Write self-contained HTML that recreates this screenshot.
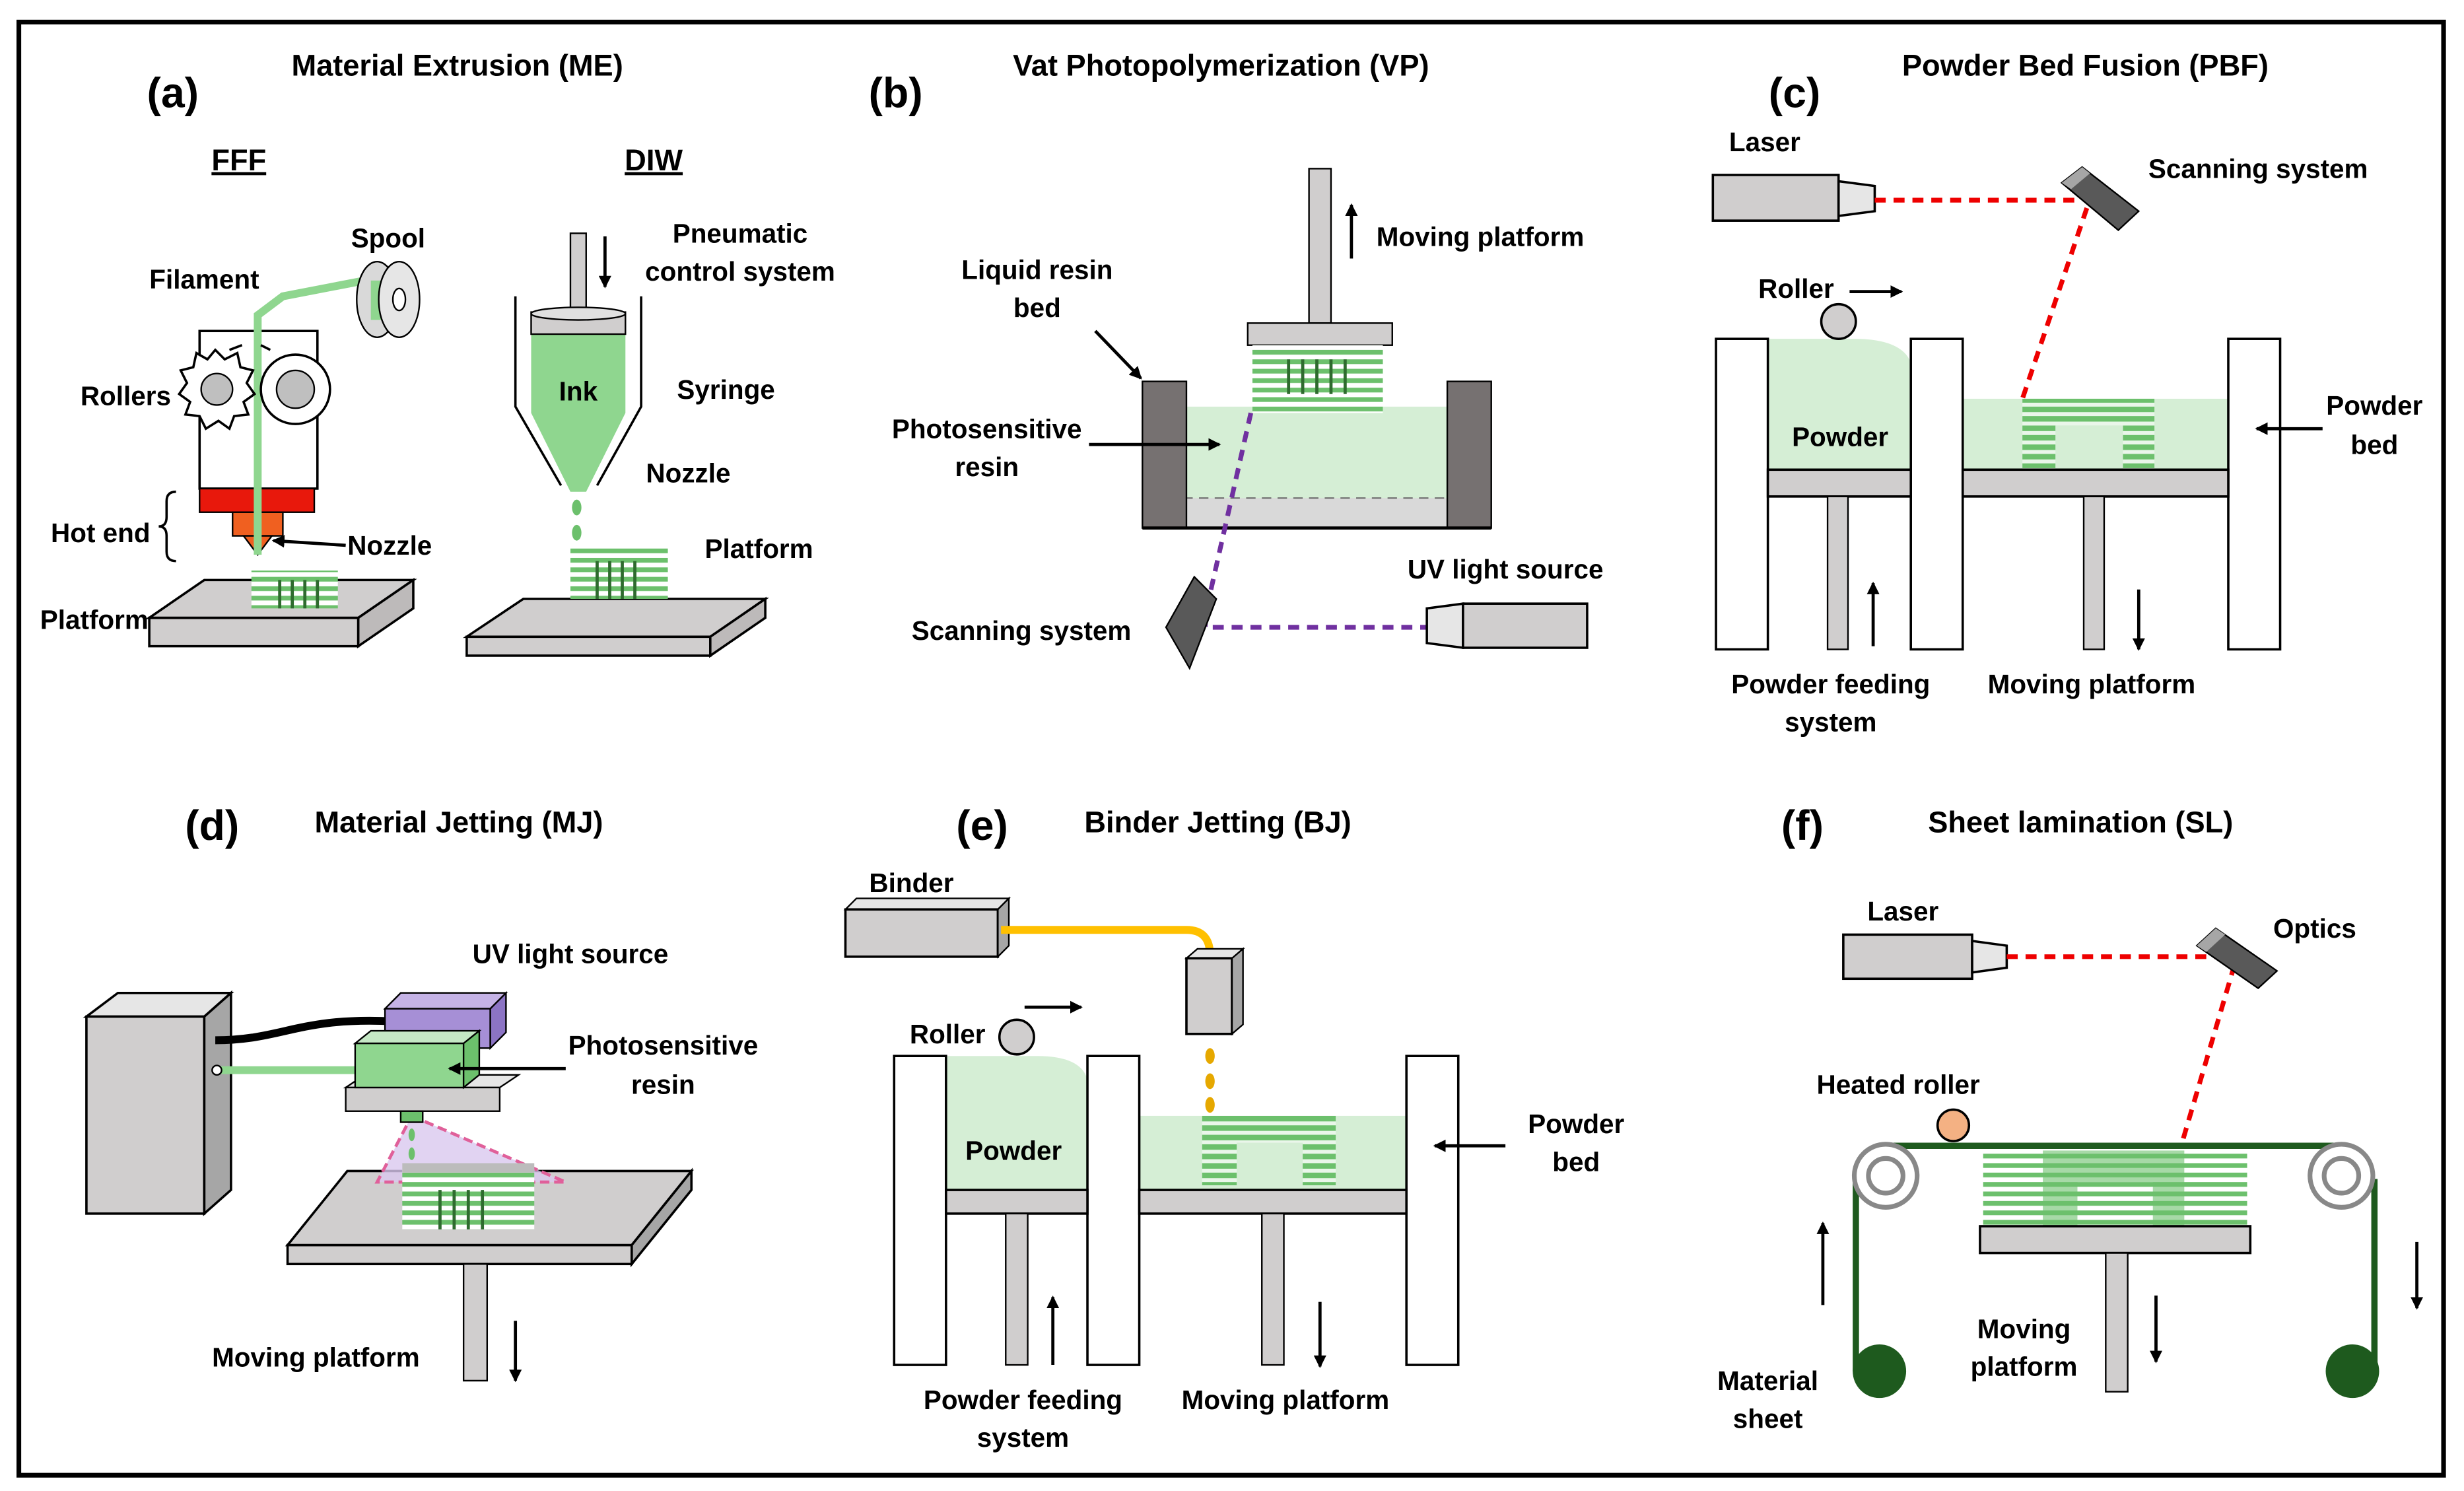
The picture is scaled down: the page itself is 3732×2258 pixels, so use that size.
<!DOCTYPE html>
<html><head><meta charset="utf-8">
<style>
html,body{margin:0;padding:0;background:#fff;}
svg{display:block;}
text{font-family:"Liberation Sans",Arial,sans-serif;font-weight:bold;fill:#000;}
</style></head><body>
<svg width="3732" height="2258" viewBox="0 0 1568 946" preserveAspectRatio="none" xmlns="http://www.w3.org/2000/svg">
<defs>
<pattern id="st" width="10" height="6" patternUnits="userSpaceOnUse"><rect width="10" height="6" fill="#eaf6ea"/><rect width="10" height="3.5" fill="#6cc06c"/></pattern>
<pattern id="st2" width="10" height="6" patternUnits="userSpaceOnUse"><rect width="10" height="6" fill="#fff"/><rect width="10" height="3" fill="#6cc06c"/></pattern>
<marker id="ar" markerWidth="8" markerHeight="8" refX="7" refY="4" orient="auto" markerUnits="userSpaceOnUse"><path d="M0,0 L8,4 L0,8 z" fill="#000"/></marker>
</defs>
<rect x="0" y="0" width="1568" height="946" fill="#fff"/>
<rect x="12" y="14" width="1543" height="922" fill="none" stroke="#000" stroke-width="3"/>

<g font-size="17" text-anchor="middle">
<!-- ===== (a) ===== -->
<text x="110" y="68" font-size="27">(a)</text>
<text x="291" y="48" font-size="19">Material Extrusion (ME)</text>
<text x="152" y="108" font-size="19" text-decoration="underline">FFF</text>
<text x="416" y="108" font-size="19" text-decoration="underline">DIW</text>
<!-- FFF platform -->
<polygon points="95,392 130,368 263,368 228,392" fill="#d0cece" stroke="#000" stroke-width="1.5"/>
<polygon points="95,392 228,392 228,410 95,410" fill="#d0cece" stroke="#000" stroke-width="1.5"/>
<polygon points="228,392 263,368 263,386 228,410" fill="#bdbaba" stroke="#000" stroke-width="1.5"/>
<rect x="160" y="362" width="55" height="24" fill="url(#st2)"/>
<g stroke="#2e6b2e" stroke-width="2"><line x1="178" y1="368" x2="178" y2="386"/><line x1="186" y1="368" x2="186" y2="386"/><line x1="194" y1="368" x2="194" y2="386"/><line x1="202" y1="368" x2="202" y2="386"/></g>
<rect x="127" y="210" width="75" height="100" fill="#fff" stroke="#000" stroke-width="1.5"/>
<rect x="127" y="310" width="73" height="15" fill="#e8180c" stroke="#000"/>
<rect x="148" y="325" width="32" height="15" fill="#f06020" stroke="#000"/>
<polygon points="155,340 173,340 164,352" fill="#f06020" stroke="#000"/>
<polyline points="164,352 164,200 180,188 232,178" fill="none" stroke="#8fd68f" stroke-width="5"/>
<ellipse cx="240" cy="190" rx="13" ry="24" fill="#d9d9d9" stroke="#000"/>
<rect x="236" y="178" width="14" height="25" fill="#8fd68f"/>
<ellipse cx="254" cy="190" rx="13" ry="24" fill="#e6e6e6" stroke="#000"/>
<ellipse cx="254" cy="190" rx="4" ry="7" fill="#fff" stroke="#000"/>
<!-- gear -->
<polygon points="137,222 143,228 151,224 153,233 161,235 157,243 162,250 155,255 158,263 149,264 146,272 139,267 131,272 127,264 118,263 121,255 114,250 119,243 115,235 123,233 125,224 132,228" fill="#fff" stroke="#000" stroke-width="1.5"/>
<circle cx="138" cy="247" r="10" fill="#bfbfbf" stroke="#000"/>
<circle cx="188" cy="247" r="22" fill="#fff" stroke="#000" stroke-width="1.5"/>
<circle cx="188" cy="247" r="12" fill="#bfbfbf" stroke="#000"/>
<path d="M146,222 l8,-3 M172,222 l-6,-3" stroke="#000" stroke-width="1.5"/>
<text x="247" y="157">Spool</text>
<text x="130" y="183">Filament</text>
<text x="80" y="257">Rollers</text>
<text x="64" y="344">Hot end</text>
<path d="M112,312 q-6,0 -6,6 v10 q0,6 -5,6 q5,0 5,6 v10 q0,6 6,6" fill="none" stroke="#000" stroke-width="1.5"/>
<text x="248" y="352">Nozzle</text>
<line x1="220" y1="346" x2="174" y2="343" stroke="#000" stroke-width="2" marker-end="url(#ar)"/>
<text x="60" y="399">Platform</text>
<!-- DIW -->
<polygon points="297,404 333,380 487,380 452,404" fill="#d0cece" stroke="#000" stroke-width="1.5"/>
<polygon points="297,404 452,404 452,416 297,416" fill="#d0cece" stroke="#000" stroke-width="1.5"/>
<polygon points="452,404 487,380 487,392 452,416" fill="#bdbaba" stroke="#000" stroke-width="1.5"/>
<rect x="363" y="348" width="62" height="32" fill="url(#st2)"/>
<g stroke="#2e6b2e" stroke-width="2"><line x1="380" y1="356" x2="380" y2="380"/><line x1="388" y1="356" x2="388" y2="380"/><line x1="396" y1="356" x2="396" y2="380"/><line x1="404" y1="356" x2="404" y2="380"/></g>
<polygon points="338,212 398,212 398,262 373,312 363,312 338,262" fill="#8fd68f"/>
<polyline points="328,188 328,258 357,308" fill="none" stroke="#000" stroke-width="1.5"/>
<polyline points="408,188 408,258 380,308" fill="none" stroke="#000" stroke-width="1.5"/>
<rect x="363" y="148" width="10" height="52" fill="#d0cece" stroke="#000"/>
<rect x="338" y="198" width="60" height="14" fill="#d0cece" stroke="#000"/>
<ellipse cx="368" cy="199" rx="30" ry="4" fill="#e0e0e0" stroke="#000"/>
<text x="368" y="254">Ink</text>
<ellipse cx="367" cy="322" rx="3" ry="5" fill="#6cc06c"/>
<ellipse cx="367" cy="338" rx="3" ry="5" fill="#6cc06c"/>
<line x1="385" y1="150" x2="385" y2="182" stroke="#000" stroke-width="2" marker-end="url(#ar)"/>
<text x="471" y="154">Pneumatic</text>
<text x="471" y="178">control system</text>
<text x="462" y="253">Syringe</text>
<text x="438" y="306">Nozzle</text>
<text x="483" y="354">Platform</text>

<!-- ===== (b) ===== -->
<text x="570" y="68" font-size="27">(b)</text>
<text x="777" y="48" font-size="19">Vat Photopolymerization (VP)</text>
<rect x="755" y="258" width="166" height="77" fill="#d5eed5"/>
<rect x="753" y="316" width="169" height="19" fill="#d9d9d9" stroke="#777" stroke-dasharray="6,4"/>
<rect x="727" y="242" width="28" height="93" fill="#767171" stroke="#000"/>
<rect x="921" y="242" width="28" height="93" fill="#767171" stroke="#000"/>
<line x1="727" y1="335" x2="949" y2="335" stroke="#000" stroke-width="2"/>
<rect x="833" y="107" width="14" height="98" fill="#d0cece" stroke="#000"/>
<rect x="794" y="205" width="92" height="14" fill="#d0cece" stroke="#000"/>
<rect x="797" y="219" width="83" height="43" fill="url(#st2)"/>
<g stroke="#2e6b2e" stroke-width="2"><line x1="820" y1="228" x2="820" y2="250"/><line x1="829" y1="228" x2="829" y2="250"/><line x1="838" y1="228" x2="838" y2="250"/><line x1="847" y1="228" x2="847" y2="250"/><line x1="856" y1="228" x2="856" y2="250"/></g>
<line x1="860" y1="164" x2="860" y2="130" stroke="#000" stroke-width="2" marker-end="url(#ar)"/>
<text x="942" y="156">Moving platform</text>
<text x="660" y="177">Liquid resin</text>
<text x="660" y="201">bed</text>
<line x1="697" y1="210" x2="726" y2="240" stroke="#000" stroke-width="2" marker-end="url(#ar)"/>
<text x="628" y="278">Photosensitive</text>
<text x="628" y="302">resin</text>
<line x1="693" y1="282" x2="776" y2="282" stroke="#000" stroke-width="2" marker-end="url(#ar)"/>
<polyline points="796,262 767,390 767,398 908,398" fill="none" stroke="#7030a0" stroke-width="3" stroke-dasharray="7,5"/>
<polygon points="742,398 760,366 774,380 757,424" fill="#595959" stroke="#000"/>
<polygon points="908,386 931,383 931,411 908,408" fill="#e6e6e6" stroke="#000" stroke-width="1.5"/>
<rect x="931" y="383" width="79" height="28" fill="#d0cece" stroke="#000" stroke-width="1.5"/>
<text x="958" y="367">UV light source</text>
<text x="650" y="406">Scanning system</text>

<!-- ===== (c) ===== -->
<text x="1142" y="68" font-size="27">(c)</text>
<text x="1327" y="48" font-size="19">Powder Bed Fusion (PBF)</text>
<rect x="1090" y="111" width="80" height="29" fill="#d0cece" stroke="#000" stroke-width="1.5"/>
<polygon points="1170,115 1193,118 1193,134 1170,137" fill="#e6e6e6" stroke="#000" stroke-width="1.5"/>
<text x="1123" y="96">Laser</text>
<polyline points="1193,127 1325,127" fill="none" stroke="#e00" stroke-width="3" stroke-dasharray="7,5"/>
<line x1="1328" y1="132" x2="1287" y2="253" stroke="#e00" stroke-width="3" stroke-dasharray="7,5"/>
<polygon points="1312,116 1325,106 1361,134 1348,146" fill="#595959" stroke="#000"/>
<polygon points="1312,116 1325,106 1330,110 1318,120" fill="#a6a6a6"/>
<text x="1437" y="113">Scanning system</text>
<path d="M1125,298 V215 H1180 Q1210,215 1216,230 V298 Z" fill="#d5eed5"/>
<rect x="1249" y="253" width="169" height="45" fill="#d5eed5"/>
<path d="M1287,297 V253 H1371 V297 H1351 V270 H1308 V297 Z" fill="url(#st)"/>
<rect x="1092" y="215" width="33" height="197" fill="#fff" stroke="#000" stroke-width="1.5"/>
<rect x="1216" y="215" width="33" height="197" fill="#fff" stroke="#000" stroke-width="1.5"/>
<rect x="1418" y="215" width="33" height="197" fill="#fff" stroke="#000" stroke-width="1.5"/>
<rect x="1125" y="298" width="91" height="17" fill="#d0cece" stroke="#000" stroke-width="1.5"/>
<rect x="1249" y="298" width="169" height="17" fill="#d0cece" stroke="#000" stroke-width="1.5"/>
<rect x="1163" y="315" width="13" height="97" fill="#d0cece" stroke="#000"/>
<rect x="1326" y="315" width="13" height="97" fill="#d0cece" stroke="#000"/>
<circle cx="1170" cy="204" r="11" fill="#d0cece" stroke="#000" stroke-width="1.5"/>
<text x="1143" y="189">Roller</text>
<line x1="1177" y1="185" x2="1210" y2="185" stroke="#000" stroke-width="2" marker-end="url(#ar)"/>
<text x="1171" y="283">Powder</text>
<text x="1511" y="263">Powder</text>
<text x="1511" y="288">bed</text>
<line x1="1478" y1="272" x2="1436" y2="272" stroke="#000" stroke-width="2" marker-end="url(#ar)"/>
<line x1="1192" y1="410" x2="1192" y2="370" stroke="#000" stroke-width="2" marker-end="url(#ar)"/>
<line x1="1361" y1="374" x2="1361" y2="412" stroke="#000" stroke-width="2" marker-end="url(#ar)"/>
<text x="1165" y="440">Powder feeding</text>
<text x="1165" y="464">system</text>
<text x="1331" y="440">Moving platform</text>

<!-- ===== (d) ===== -->
<text x="135" y="533" font-size="27">(d)</text>
<text x="292" y="528" font-size="19">Material Jetting (MJ)</text>
<polygon points="55,645 75,630 147,630 130,645" fill="#e6e6e6" stroke="#000" stroke-width="1.5"/>
<rect x="55" y="645" width="75" height="125" fill="#d0cece" stroke="#000" stroke-width="1.5"/>
<polygon points="130,645 147,630 147,755 130,770" fill="#a6a6a6" stroke="#000" stroke-width="1.5"/>
<path d="M137,660 C180,660 190,645 250,648" fill="none" stroke="#000" stroke-width="5"/>
<path d="M137,679 H228" fill="none" stroke="#8fd68f" stroke-width="5"/>
<circle cx="138" cy="679" r="3" fill="#fff" stroke="#000"/>
<polygon points="245,640 255,630 322,630 312,640" fill="#c5b3e6" stroke="#000"/>
<rect x="245" y="640" width="67" height="25" fill="#a68fd6" stroke="#000"/>
<polygon points="312,640 322,630 322,655 312,665" fill="#8c74c4" stroke="#000"/>
<polygon points="220,690 232,682 330,682 318,690" fill="#e6e6e6" stroke="#000"/>
<rect x="220" y="690" width="98" height="15" fill="#d0cece" stroke="#000"/>
<polygon points="226,662 236,654 305,654 295,662" fill="#c5e8c5" stroke="#000"/>
<rect x="226" y="662" width="69" height="28" fill="#8fd68f" stroke="#000"/>
<polygon points="295,662 305,654 305,682 295,690" fill="#6cc06c" stroke="#000"/>
<!-- platform -->
<polygon points="183,790 221,743 440,743 402,790" fill="#d0cece" stroke="#000" stroke-width="1.5"/>
<rect x="183" y="790" width="219" height="12" fill="#d0cece" stroke="#000" stroke-width="1.5"/>
<polygon points="402,790 440,743 440,755 402,802" fill="#a6a6a6" stroke="#000" stroke-width="1.5"/>
<polygon points="262,708 360,750 240,750" fill="#d9c8ef" fill-opacity="0.8" stroke="#e0609a" stroke-width="2" stroke-dasharray="6,3"/>
<rect x="255" y="705" width="14" height="7" fill="#6cc06c" stroke="#000"/>
<rect x="256" y="742" width="84" height="38" fill="url(#st2)"/>
<rect x="256" y="738" width="84" height="6" fill="#bcbcbc"/>
<g stroke="#2e6b2e" stroke-width="2"><line x1="280" y1="755" x2="280" y2="780"/><line x1="289" y1="755" x2="289" y2="780"/><line x1="298" y1="755" x2="298" y2="780"/><line x1="307" y1="755" x2="307" y2="780"/></g>
<ellipse cx="262" cy="720" rx="2" ry="4" fill="#6cc06c"/><ellipse cx="262" cy="732" rx="2" ry="4" fill="#6cc06c"/>
<rect x="295" y="802" width="15" height="74" fill="#d0cece" stroke="#000"/>
<line x1="328" y1="838" x2="328" y2="876" stroke="#000" stroke-width="2" marker-end="url(#ar)"/>
<text x="363" y="611">UV light source</text>
<text x="422" y="669">Photosensitive</text>
<text x="422" y="694">resin</text>
<line x1="360" y1="678" x2="286" y2="678" stroke="#000" stroke-width="2" marker-end="url(#ar)"/>
<text x="201" y="867">Moving platform</text>

<!-- ===== (e) ===== -->
<text x="625" y="533" font-size="27">(e)</text>
<text x="775" y="528" font-size="19">Binder Jetting (BJ)</text>
<polygon points="538,577 545,570 642,570 635,577" fill="#e6e6e6" stroke="#000"/>
<rect x="538" y="577" width="97" height="30" fill="#d0cece" stroke="#000" stroke-width="1.5"/>
<polygon points="635,577 642,570 642,600 635,607" fill="#a6a6a6" stroke="#000"/>
<text x="580" y="566">Binder</text>
<path d="M637,590 H755 Q770,590 770,606" fill="none" stroke="#ffc000" stroke-width="5"/>
<polygon points="755,608 762,602 791,602 784,608" fill="#e6e6e6" stroke="#000"/>
<rect x="755" y="608" width="29" height="48" fill="#d0cece" stroke="#000" stroke-width="1.5"/>
<polygon points="784,608 791,602 791,650 784,656" fill="#a6a6a6" stroke="#000"/>
<ellipse cx="770" cy="670" rx="3" ry="5" fill="#e6a800"/><ellipse cx="770" cy="686" rx="3" ry="5" fill="#e6a800"/><ellipse cx="770" cy="701" rx="3" ry="5" fill="#e6a800"/>
<path d="M602,755 V670 H660 Q688,670 692,685 V755 Z" fill="#d5eed5"/>
<rect x="725" y="708" width="170" height="47" fill="#d5eed5"/>
<path d="M765,752 V708 H850 V752 H829 V725 H787 V752 Z" fill="url(#st)"/>
<rect x="569" y="670" width="33" height="196" fill="#fff" stroke="#000" stroke-width="1.5"/>
<rect x="692" y="670" width="33" height="196" fill="#fff" stroke="#000" stroke-width="1.5"/>
<rect x="895" y="670" width="33" height="196" fill="#fff" stroke="#000" stroke-width="1.5"/>
<rect x="602" y="755" width="90" height="15" fill="#d0cece" stroke="#000" stroke-width="1.5"/>
<rect x="725" y="755" width="170" height="15" fill="#d0cece" stroke="#000" stroke-width="1.5"/>
<rect x="640" y="770" width="14" height="96" fill="#d0cece" stroke="#000"/>
<rect x="803" y="770" width="14" height="96" fill="#d0cece" stroke="#000"/>
<circle cx="647" cy="658" r="11" fill="#d0cece" stroke="#000" stroke-width="1.5"/>
<text x="603" y="662">Roller</text>
<line x1="652" y1="639" x2="688" y2="639" stroke="#000" stroke-width="2" marker-end="url(#ar)"/>
<text x="645" y="736">Powder</text>
<text x="1003" y="719">Powder</text>
<text x="1003" y="743">bed</text>
<line x1="958" y1="727" x2="913" y2="727" stroke="#000" stroke-width="2" marker-end="url(#ar)"/>
<line x1="670" y1="866" x2="670" y2="823" stroke="#000" stroke-width="2" marker-end="url(#ar)"/>
<line x1="840" y1="826" x2="840" y2="867" stroke="#000" stroke-width="2" marker-end="url(#ar)"/>
<text x="651" y="894">Powder feeding</text>
<text x="651" y="918">system</text>
<text x="818" y="894">Moving platform</text>

<!-- ===== (f) ===== -->
<text x="1147" y="533" font-size="27">(f)</text>
<text x="1324" y="528" font-size="19">Sheet lamination (SL)</text>
<rect x="1173" y="593" width="82" height="28" fill="#d0cece" stroke="#000" stroke-width="1.5"/>
<polygon points="1255,597 1277,600 1277,614 1255,617" fill="#e6e6e6" stroke="#000" stroke-width="1.5"/>
<text x="1211" y="584">Laser</text>
<line x1="1277" y1="607" x2="1410" y2="607" stroke="#e00" stroke-width="3" stroke-dasharray="7,5"/>
<line x1="1422" y1="612" x2="1388" y2="727" stroke="#e00" stroke-width="3" stroke-dasharray="7,5"/>
<polygon points="1398,600 1410,589 1449,616 1437,627" fill="#595959" stroke="#000"/>
<polygon points="1398,600 1410,589 1416,593 1404,604" fill="#a6a6a6"/>
<text x="1473" y="595">Optics</text>
<circle cx="1243" cy="714" r="10" fill="#f4b183" stroke="#000" stroke-width="1.5"/>
<text x="1208" y="694">Heated roller</text>
<rect x="1262" y="730" width="168" height="48" fill="url(#st2)"/>
<path d="M1300,778 V730 H1390 V778 H1370 V750 H1322 V778 Z" fill="#6cc06c" fill-opacity="0.6"/>
<rect x="1260" y="778" width="172" height="17" fill="#d0cece" stroke="#000" stroke-width="1.5"/>
<rect x="1340" y="795" width="14" height="88" fill="#d0cece" stroke="#000"/>
<line x1="1372" y1="822" x2="1372" y2="864" stroke="#000" stroke-width="2" marker-end="url(#ar)"/>
<line x1="1200" y1="727" x2="1490" y2="727" stroke="#1e5a1e" stroke-width="4"/>
<line x1="1181" y1="748" x2="1181" y2="870" stroke="#1e5a1e" stroke-width="4"/>
<line x1="1511" y1="748" x2="1511" y2="870" stroke="#1e5a1e" stroke-width="4"/>
<circle cx="1200" cy="746" r="20" fill="#fff" stroke="#888" stroke-width="3"/>
<circle cx="1200" cy="746" r="11" fill="#fff" stroke="#888" stroke-width="3"/>
<circle cx="1490" cy="746" r="20" fill="#fff" stroke="#888" stroke-width="3"/>
<circle cx="1490" cy="746" r="11" fill="#fff" stroke="#888" stroke-width="3"/>
<circle cx="1196" cy="870" r="17" fill="#1e5a1e"/>
<circle cx="1497" cy="870" r="17" fill="#1e5a1e"/>
<line x1="1160" y1="828" x2="1160" y2="776" stroke="#000" stroke-width="2" marker-end="url(#ar)"/>
<line x1="1538" y1="788" x2="1538" y2="830" stroke="#000" stroke-width="2" marker-end="url(#ar)"/>
<text x="1125" y="882">Material</text>
<text x="1125" y="906">sheet</text>
<text x="1288" y="849">Moving</text>
<text x="1288" y="873">platform</text>
</g>
</svg>
</body></html>
